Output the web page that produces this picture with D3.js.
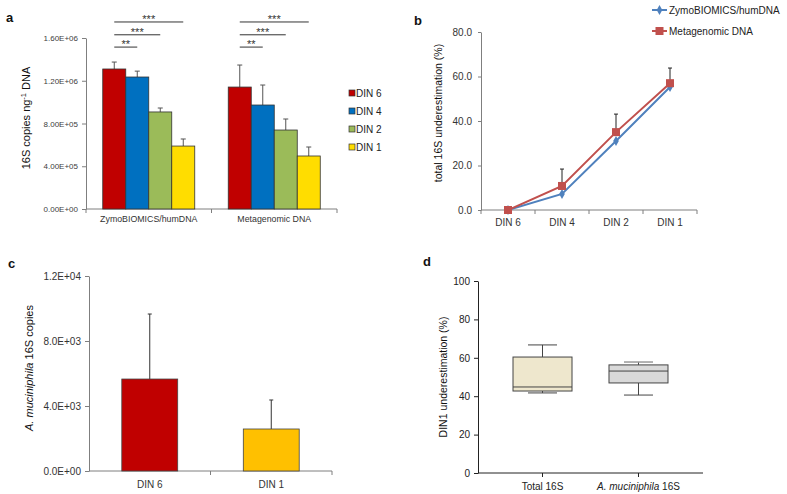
<!DOCTYPE html>
<html><head><meta charset="utf-8">
<script src="https://cdn.jsdelivr.net/npm/d3@7"></script>
<style>
body{margin:0;background:#fff;}
svg{display:block;font-family:"Liberation Sans",Arial,sans-serif;}
</style>
</head><body>
<svg id="chart" width="787" height="494"></svg>
<script>
// ---------- data ----------
// panel a
const groupsA = ["ZymoBIOMICS/humDNA", "Metagenomic DNA"];
const seriesA = ["DIN 6", "DIN 4", "DIN 2", "DIN 1"];
const zymoA = [1310000, 1235000, 908000, 589000];
const metaA = [1141000, 973000, 739000, 496000];
const zymoErrA = [65000, 55000, 37000, 66000];
const metaErrA = [206000, 187000, 103000, 84000];
const ticksA = [0, 400000, 800000, 1200000, 1600000];
const sigLabelsA = ["**", "***", "***"];
const sigLevelsA = [1515000, 1630000, 1750000];
// panel b
const dinB = ["DIN 6", "DIN 4", "DIN 2", "DIN 1"];
const zymoB = [0, 7.2, 31.0, 55.3];
const metaB = [0, 10.8, 35.0, 57.0];
const metaErrB = [0, 7.6, 8.1, 6.8];
const ticksB = [0, 20, 40, 60, 80];
const legendB = ["ZymoBIOMICS/humDNA", "Metagenomic DNA"];
// panel c
const dinC = ["DIN 6", "DIN 1"];
const akkC = [5660, 2585];
const akkErrC = [4000, 1785];
const ticksC = [0, 4000, 8000, 12000];
// panel d
const catsD = ["Total 16S", "A. muciniphila 16S"];
const minD = [41.7, 40.6];
const q1D = [42.7, 46.9];
const medD = [44.8, 53.1];
const q3D = [60.4, 56.3];
const maxD = [66.7, 57.8];
const ticksD = [0, 20, 40, 60, 80, 100];

// ---------- helpers ----------
const svg = d3.select("#chart");
function fmtE(d, digits) {
  if (d === 0) return (0).toFixed(digits) + "E+00";
  const s = d.toExponential(digits).toUpperCase();
  const m = s.match(/^(.*)E([+-])(\d+)$/);
  return m[1] + "E" + m[2] + (m[3].length < 2 ? "0" + m[3] : m[3]);
}
function styleAxis(g, color, textColor, fs) {
  g.select(".domain").attr("stroke", color);
  g.selectAll(".tick line").attr("stroke", color);
  g.selectAll(".tick text").attr("fill", textColor).style("font-size", fs + "px")
    .style("font-family", '"Liberation Sans",Arial,sans-serif');
}
function panelLabel(t, x, y) {
  svg.append("text").attr("x", x).attr("y", y).text(t)
    .style("font-size", "13px").style("font-weight", "bold").attr("fill", "#111");
}

// ================= Panel a =================
(function () {
  const yA = d3.scaleLinear().domain([0, 1600000]).range([209, 38]);
  const x0 = d3.scaleBand().domain(groupsA).range([86, 337]).padding(0);
  const inner = 92;
  const x1 = d3.scaleBand().domain(seriesA)
    .range([(x0.bandwidth() - inner) / 2, (x0.bandwidth() + inner) / 2]).padding(0);
  const colorsA = d3.scaleOrdinal().domain(seriesA).range(["#c00000", "#0070c0", "#9bbb59", "#ffdd00"]);
  const vals = [zymoA, metaA], errs = [zymoErrA, metaErrA];

  const g = svg.append("g");
  const yAxis = g.append("g").attr("transform", "translate(86,0)")
    .call(d3.axisLeft(yA).tickValues(ticksA).tickSize(4).tickSizeOuter(0).tickPadding(4)
      .tickFormat(d => fmtE(d, 2)));
  styleAxis(yAxis, "#7f7f7f", "#404040", 8);

  // x axis
  g.append("line").attr("x1", 86).attr("x2", 337).attr("y1", yA(0)).attr("y2", yA(0)).attr("stroke", "#7f7f7f");
  const bounds = [86, x0(groupsA[1]), 337];
  g.selectAll(".xt").data(bounds).enter().append("line")
    .attr("x1", d => d).attr("x2", d => d).attr("y1", yA(0)).attr("y2", yA(0) + 4).attr("stroke", "#7f7f7f");
  g.selectAll(".xl").data(groupsA).enter().append("text")
    .attr("x", d => x0(d) + x0.bandwidth() / 2).attr("y", 222).attr("text-anchor", "middle")
    .style("font-size", "8.8px").attr("fill", "#333").text(d => d);

  groupsA.forEach((grp, gi) => {
    const gg = g.append("g").attr("transform", `translate(${x0(grp)},0)`);
    seriesA.forEach((s, si) => {
      const v = vals[gi][si], e = errs[gi][si];
      const cx = x1(s) + x1.bandwidth() / 2;
      gg.append("line").attr("x1", cx).attr("x2", cx).attr("y1", yA(v)).attr("y2", yA(v + e)).attr("stroke", "#555");
      gg.append("line").attr("x1", cx - 2.5).attr("x2", cx + 2.5).attr("y1", yA(v + e)).attr("y2", yA(v + e)).attr("stroke", "#555");
      gg.append("rect").attr("x", x1(s)).attr("width", x1.bandwidth()).attr("y", yA(v)).attr("height", yA(0) - yA(v))
        .attr("fill", colorsA(s)).attr("stroke", "#333").attr("stroke-width", 0.8);
    });
    // significance lines
    sigLabelsA.forEach((lab, k) => {
      const xa = x1(seriesA[0]) + x1.bandwidth() / 2;
      const xb = x1(seriesA[k + 1]) + x1.bandwidth() / 2;
      const yy = yA(sigLevelsA[k]);
      gg.append("line").attr("x1", xa).attr("x2", xb).attr("y1", yy).attr("y2", yy).attr("stroke", "#333").attr("stroke-width", 1);
      gg.append("text").attr("x", (xa + xb) / 2).attr("y", yy + 1).attr("text-anchor", "middle")
        .style("font-size", "11px").attr("fill", "#333").text(lab);
    });
  });

  // legend
  const lg = g.append("g");
  seriesA.forEach((s, i) => {
    const yy = 93 + i * 18;
    lg.append("rect").attr("x", 349).attr("y", yy - 3).attr("width", 6).attr("height", 6)
      .attr("fill", colorsA(s)).attr("stroke", "#333").attr("stroke-width", 0.7);
    lg.append("text").attr("x", 356).attr("y", yy + 3.5).style("font-size", "10px").attr("fill", "#222").text(s);
  });

  // y label
  const yl = g.append("text").attr("transform", "translate(30,118) rotate(-90)").attr("text-anchor", "middle")
    .style("font-size", "11px").attr("fill", "#111");
  yl.append("tspan").text("16S copies ng");
  yl.append("tspan").attr("dy", -4).style("font-size", "7.5px").text("-1");
  yl.append("tspan").attr("dy", 4).text(" DNA");

  panelLabel("a", 6, 22);
})();

// ================= Panel b =================
(function () {
  const yB = d3.scaleLinear().domain([0, 80]).range([210, 32]);
  const xB = d3.scaleBand().domain(dinB).range([481, 697]).padding(0);
  const cx = d => xB(d) + xB.bandwidth() / 2;
  const g = svg.append("g");
  const yAxis = g.append("g").attr("transform", "translate(481,0)")
    .call(d3.axisLeft(yB).tickValues(ticksB).tickSize(3).tickSizeOuter(0).tickPadding(6).tickFormat(d3.format(".1f")));
  styleAxis(yAxis, "#7f7f7f", "#333", 10);
  g.append("line").attr("x1", 481).attr("x2", 697).attr("y1", yB(0)).attr("y2", yB(0)).attr("stroke", "#7f7f7f");
  const bnds = dinB.map(d => xB(d)).concat([697]);
  g.selectAll(".bt").data(bnds).enter().append("line")
    .attr("x1", d => d).attr("x2", d => d).attr("y1", yB(0)).attr("y2", yB(0) + 4).attr("stroke", "#7f7f7f");
  g.selectAll(".bl").data(dinB).enter().append("text").attr("x", d => cx(d)).attr("y", 226)
    .attr("text-anchor", "middle").style("font-size", "10px").attr("fill", "#333").text(d => d);

  // error bars (metagenomic)
  dinB.forEach((d, i) => {
    if (metaErrB[i] > 0) {
      g.append("line").attr("x1", cx(d)).attr("x2", cx(d)).attr("y1", yB(metaB[i])).attr("y2", yB(metaB[i] + metaErrB[i])).attr("stroke", "#222");
      g.append("line").attr("x1", cx(d) - 2).attr("x2", cx(d) + 2).attr("y1", yB(metaB[i] + metaErrB[i])).attr("y2", yB(metaB[i] + metaErrB[i])).attr("stroke", "#222");
    }
  });
  const line = (arr) => d3.line().x((v, i) => cx(dinB[i])).y(v => yB(v))(arr);
  g.append("path").attr("d", line(zymoB)).attr("fill", "none").attr("stroke", "#4f81bd").attr("stroke-width", 2);
  g.append("path").attr("d", line(metaB)).attr("fill", "none").attr("stroke", "#c0504d").attr("stroke-width", 2);
  const diamond = d3.symbol().type(d3.symbolDiamond).size(28);
  zymoB.forEach((v, i) => g.append("path").attr("d", diamond()).attr("transform", `translate(${cx(dinB[i])},${yB(v)})`).attr("fill", "#4f81bd"));
  metaB.forEach((v, i) => g.append("rect").attr("x", cx(dinB[i]) - 4).attr("y", yB(v) - 4).attr("width", 8).attr("height", 8).attr("fill", "#c0504d"));

  // legend
  const colsB = ["#4f81bd", "#c0504d"];
  legendB.forEach((t, i) => {
    const yy = 10 + i * 21;
    g.append("line").attr("x1", 652).attr("x2", 667).attr("y1", yy).attr("y2", yy).attr("stroke", colsB[i]).attr("stroke-width", 2);
    if (i === 0) g.append("path").attr("d", diamond()).attr("transform", `translate(659.5,${yy})`).attr("fill", colsB[i]);
    else g.append("rect").attr("x", 655.5).attr("y", yy - 4).attr("width", 8).attr("height", 8).attr("fill", colsB[i]);
    g.append("text").attr("x", 669).attr("y", yy + 3.5).style("font-size", "10px").attr("fill", "#222").text(t);
  });

  g.append("text").attr("transform", "translate(442,113) rotate(-90)").attr("text-anchor", "middle")
    .style("font-size", "10.5px").attr("fill", "#111").text("total 16S underestimation (%)");
  panelLabel("b", 414, 25);
})();

// ================= Panel c =================
(function () {
  const yC = d3.scaleLinear().domain([0, 12000]).range([471, 276]);
  const xC = d3.scaleBand().domain(dinC).range([89, 332]).padding(0);
  const colC = ["#c00000", "#ffc000"];
  const g = svg.append("g");
  const yAxis = g.append("g").attr("transform", "translate(89,0)")
    .call(d3.axisLeft(yC).tickValues(ticksC).tickSize(4).tickSizeOuter(0).tickPadding(4).tickFormat(d => fmtE(d, 1)));
  styleAxis(yAxis, "#7f7f7f", "#333", 10);
  g.append("line").attr("x1", 89).attr("x2", 332).attr("y1", yC(0)).attr("y2", yC(0)).attr("stroke", "#7f7f7f");
  const bnds = [xC(dinC[1]), 332];
  g.selectAll(".ct").data(bnds).enter().append("line")
    .attr("x1", d => d).attr("x2", d => d).attr("y1", yC(0)).attr("y2", yC(0) + 4).attr("stroke", "#7f7f7f");
  const bw = xC.bandwidth() * 0.46;
  dinC.forEach((d, i) => {
    const c = xC(d) + xC.bandwidth() / 2;
    g.append("line").attr("x1", c).attr("x2", c).attr("y1", yC(akkC[i])).attr("y2", yC(akkC[i] + akkErrC[i])).attr("stroke", "#333");
    g.append("line").attr("x1", c - 2).attr("x2", c + 2).attr("y1", yC(akkC[i] + akkErrC[i])).attr("y2", yC(akkC[i] + akkErrC[i])).attr("stroke", "#333");
    g.append("rect").attr("x", c - bw / 2).attr("width", bw).attr("y", yC(akkC[i])).attr("height", yC(0) - yC(akkC[i]))
      .attr("fill", colC[i]).attr("stroke", "#444").attr("stroke-width", 0.8);
    g.append("text").attr("x", c).attr("y", 488).attr("text-anchor", "middle").style("font-size", "10px").attr("fill", "#333").text(d);
  });
  const yl = g.append("text").attr("transform", "translate(33,368) rotate(-90)").attr("text-anchor", "middle")
    .style("font-size", "11px").attr("fill", "#111");
  yl.append("tspan").style("font-style", "italic").text("A. muciniphila");
  yl.append("tspan").text(" 16S copies");
  panelLabel("c", 8, 268);
})();

// ================= Panel d =================
(function () {
  const yD = d3.scaleLinear().domain([0, 100]).range([473, 281]);
  const xD = d3.scalePoint().domain(catsD).range([478, 703]).padding(0.672);
  const fills = ["#eee7cd", "#d9d9d9"];
  const capCol = ["#444", "#999"];
  const g = svg.append("g");
  const yAxis = g.append("g").attr("transform", "translate(478,0)")
    .call(d3.axisLeft(yD).tickValues(ticksD).tickSize(4).tickSizeOuter(0).tickPadding(4));
  styleAxis(yAxis, "#222", "#222", 10);
  g.append("line").attr("x1", 478).attr("x2", 703).attr("y1", yD(0)).attr("y2", yD(0)).attr("stroke", "#222");
  const boxW = 59, capW = 29;
  catsD.forEach((c, i) => {
    const x = xD(c);
    g.append("line").attr("x1", x).attr("x2", x).attr("y1", yD(0)).attr("y2", yD(0) + 4).attr("stroke", "#222");
    // whiskers
    g.append("line").attr("x1", x).attr("x2", x).attr("y1", yD(q3D[i])).attr("y2", yD(maxD[i])).attr("stroke", "#444");
    g.append("line").attr("x1", x).attr("x2", x).attr("y1", yD(q1D[i])).attr("y2", yD(minD[i])).attr("stroke", "#444");
    g.append("line").attr("x1", x - capW / 2).attr("x2", x + capW / 2).attr("y1", yD(maxD[i])).attr("y2", yD(maxD[i])).attr("stroke", capCol[i]).attr("stroke-width", i ? 1.5 : 1);
    g.append("line").attr("x1", x - capW / 2).attr("x2", x + capW / 2).attr("y1", yD(minD[i])).attr("y2", yD(minD[i])).attr("stroke", "#444");
    g.append("rect").attr("x", x - boxW / 2).attr("width", boxW).attr("y", yD(q3D[i])).attr("height", yD(q1D[i]) - yD(q3D[i]))
      .attr("fill", fills[i]).attr("stroke", "#444").attr("stroke-width", 1);
    g.append("line").attr("x1", x - boxW / 2).attr("x2", x + boxW / 2).attr("y1", yD(medD[i])).attr("y2", yD(medD[i])).attr("stroke", "#444");
    const t = g.append("text").attr("x", x).attr("y", 490).attr("text-anchor", "middle").style("font-size", "10px").attr("fill", "#222");
    if (i === 1) {
      t.append("tspan").style("font-style", "italic").text("A. muciniphila");
      t.append("tspan").text(" 16S");
    } else t.text(c);
  });
  g.append("text").attr("transform", "translate(447,377) rotate(-90)").attr("text-anchor", "middle")
    .style("font-size", "10.5px").attr("fill", "#111").text("DIN1 underestimation (%)");
  panelLabel("d", 423, 266);
})();
</script>
</body></html>
